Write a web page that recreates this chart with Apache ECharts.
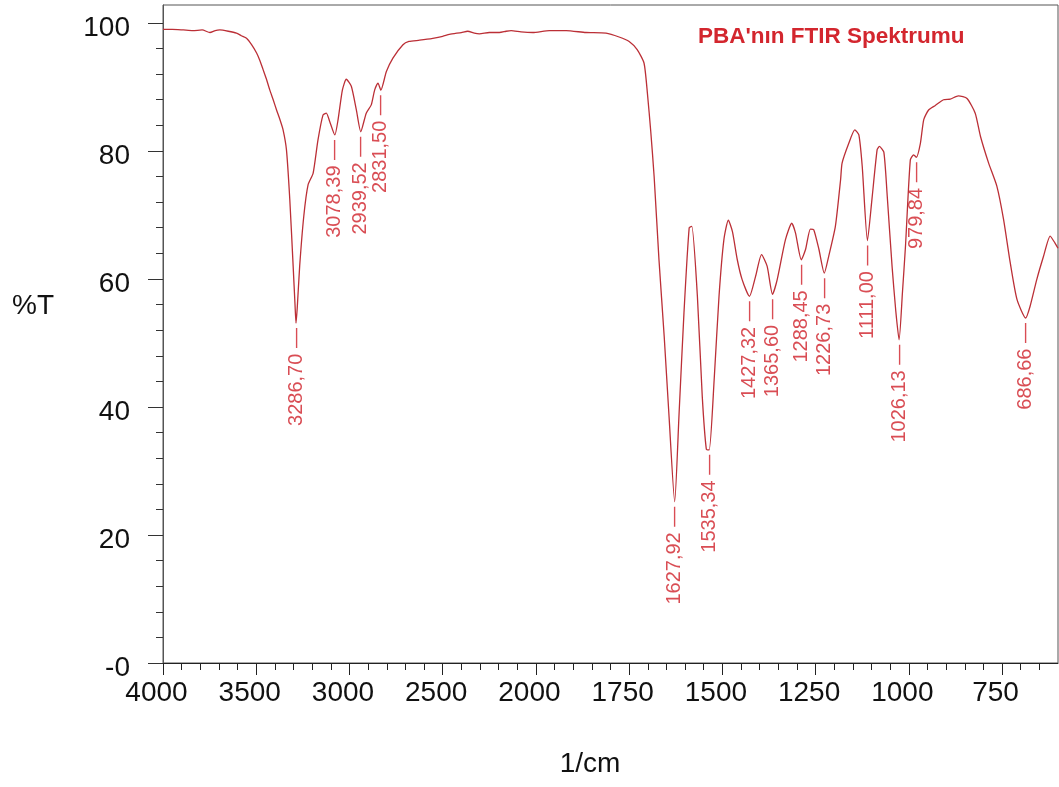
<!DOCTYPE html>
<html>
<head>
<meta charset="utf-8">
<script src="https://cdn.jsdelivr.net/npm/echarts@6/dist/echarts.min.js"></script>
<style>
html,body{margin:0;padding:0;background:#fff;}
#chart{width:1059px;height:787px;}
</style>
</head>
<body>
<div id="chart"></div>
<script>
// ---- data ----
const wavenumbers = [4000,3950,3891,3840,3790,3748,3720,3695,3650,3606,3580,3552,3525,3498,3480,3463,3445,3427,3409,3391,3373,3356,3338,3320,3302,3292,3286.7,3280,3267,3245,3222,3195,3169,3142,3124,3106,3078.39,3061,3038,3017,2990,2963,2939.52,2910,2883,2865,2847,2831.5,2802,2767,2713,2681,2624,2553,2500,2464,2400,2366,2330,2303,2250,2196,2160,2133,2080,2017,1964,1919,1866,1812,1777,1750,1728,1710,1701,1692,1683,1670,1656,1643,1627.92,1616,1603,1589,1582,1567,1554,1543,1535.34,1522,1509,1496,1484,1473,1460,1447,1427.32,1411,1395,1380,1365.6,1353,1331,1314,1304,1288.45,1277,1264,1255,1241,1226.73,1215,1197,1183,1179,1161,1145,1134,1125,1111,1099,1085,1079,1067,1058,1045,1035,1026.13,1017,1009,996,987,979.84,969,960,947,929,907,889,867,844,822,808,786,764,746,728,710,686.66,675,657,639,621,608,600];
const transmittance = [99.0,99.0,98.9,98.8,98.9,98.5,98.8,98.9,98.7,98.4,98.0,97.6,96.6,95.3,94.1,92.7,91.2,89.5,88.0,86.4,84.9,83.3,80.2,72.4,62.0,56.0,53.1,55.5,62.0,69.8,74.7,76.5,81.7,85.6,85.9,84.6,82.5,84.9,89.5,91.2,90.1,86.4,83.0,85.9,87.2,89.5,90.6,89.5,92.4,94.5,96.6,97.1,97.3,97.6,97.9,98.2,98.5,98.7,98.4,98.3,98.5,98.5,98.7,98.8,98.6,98.5,98.8,98.8,98.5,98.4,97.8,97.1,95.8,93.7,89.0,83.0,76.0,63.0,51.0,38.5,25.2,39.1,54.7,68.0,68.2,57.3,41.7,33.4,33.3,44.3,57.3,66.1,69.2,67.4,63.0,59.9,57.3,60.4,63.8,62.0,57.6,59.9,66.1,68.7,67.2,63.0,64.6,67.8,67.7,64.6,60.9,63.5,68.2,75.5,78.1,81.2,83.3,82.5,77.6,66.0,72.4,80.2,80.7,79.8,73.0,62.0,55.0,50.5,58.0,65.1,78.6,79.4,79.0,81.2,84.9,86.4,87.1,88.0,88.1,88.6,88.2,85.9,82.3,78.1,74.5,69.3,62.5,56.8,53.9,55.7,59.9,63.5,66.7,65.6,64.8];

const peakWavenumbers = [3286.70,3078.39,2939.52,2831.50,1627.92,1535.34,1427.32,1365.60,1288.45,1226.73,1111.00,1026.13,979.84,686.66];
const peakTransmittance = [53.1,82.5,83.0,89.5,25.2,33.3,57.3,57.6,63.0,60.9,66.0,50.5,79.0,53.9];
const peakLabels = ['3286,70','3078,39','2939,52','2831,50','1627,92','1535,34','1427,32','1365,60','1288,45','1226,73','1111,00','1026,13','979,84','686,66'];

const xMajorTicks = [4000,3500,3000,2500,2000,1750,1500,1250,1000,750];
const yMajorTicks = [0,20,40,60,80,100];
const titleText = "PBA'nın FTIR Spektrumu";
const xAxisName = '1/cm';
const yAxisName = '%T';

// ---- piecewise wavenumber axis (4000-2000 at half scale, below 2000 at full scale) ----
function toT(w){ return w >= 2000 ? (4000 - w) / 2 : 1000 + (2000 - w); }
function fromT(t){ return t <= 1000 ? 4000 - 2 * t : 2000 - (t - 1000); }
const X_MIN_WN = 4000, X_MAX_WN = 600;

const xMinor = [];
for (let w = 4000; w > 2000; w -= 100) xMinor.push(toT(w));
for (let w = 2000; w >= 650; w -= 50) xMinor.push(toT(w));
const yMinor = [];
for (let v = 0; v <= 100; v += 4) yMinor.push(v);

const lineData = wavenumbers.map((w, i) => [toT(w), transmittance[i]]);
const peakData = peakWavenumbers.map((w, i) => ({ value: [toT(w), peakTransmittance[i]], name: peakLabels[i] }));

const FONT = 'Liberation Sans, Arial, sans-serif';
const gridBox = { left: 163, right: 1, top: 5, bottom: 124 };
const yMax = 102.8;

const chart = echarts.init(document.getElementById('chart'), null, { renderer: 'canvas' });
chart.setOption({
  animation: false,
  backgroundColor: '#ffffff',
  title: [
    {
      text: titleText, left: 698, top: 25, padding: 0,
      textStyle: { color: '#d3262e', fontSize: 22.5, fontWeight: 'bold', fontFamily: FONT }
    },
    {
      text: yAxisName, left: 12, top: 292, padding: 0,
      textStyle: { color: '#111', fontSize: 28, fontWeight: 'normal', fontFamily: FONT }
    }
  ],
  grid: [
    Object.assign({ show: true, borderColor: '#555', borderWidth: 1, backgroundColor: 'transparent' }, gridBox),
    Object.assign({ show: false }, gridBox)
  ],
  xAxis: [
    {
      type: 'value', gridIndex: 0, min: toT(X_MIN_WN), max: toT(X_MAX_WN),
      name: xAxisName, nameLocation: 'middle', nameGap: 87,
      nameTextStyle: { color: '#111', fontSize: 28, fontFamily: FONT, padding: [0, 41, 0, 0] },
      axisLine: { show: true, lineStyle: { color: '#222', width: 1 } },
      axisTick: { show: true, length: 12, customValues: xMajorTicks.map(toT), lineStyle: { color: '#222' } },
      axisLabel: {
        show: true, customValues: xMajorTicks.map(toT), margin: 16,
        color: '#111', fontSize: 28, fontFamily: FONT, padding: [0, 13, 0, 0],
        formatter: v => String(Math.round(fromT(v)))
      },
      splitLine: { show: false }
    },
    {
      type: 'value', gridIndex: 1, min: toT(X_MIN_WN), max: toT(X_MAX_WN),
      axisLine: { show: false },
      axisTick: { show: true, length: 7, customValues: xMinor, lineStyle: { color: '#222' } },
      axisLabel: { show: false },
      splitLine: { show: false }
    }
  ],
  yAxis: [
    {
      type: 'value', gridIndex: 0, min: 0, max: yMax,
      axisLine: { show: true, lineStyle: { color: '#555', width: 1 } },
      axisTick: { show: true, length: 15, customValues: yMajorTicks, lineStyle: { color: '#333' } },
      axisLabel: {
        show: true, customValues: yMajorTicks, margin: 33,
        color: '#111', fontSize: 28, fontFamily: FONT,
        verticalAlign: 'top', lineHeight: 10,
        formatter: v => (v === 0 ? '-0' : String(v))
      },
      splitLine: { show: false }
    },
    {
      type: 'value', gridIndex: 1, min: 0, max: yMax,
      axisLine: { show: false },
      axisTick: { show: true, length: 7, customValues: yMinor, lineStyle: { color: '#333' } },
      axisLabel: { show: false },
      splitLine: { show: false }
    }
  ],
  series: [
    {
      type: 'line', xAxisIndex: 0, yAxisIndex: 0,
      data: lineData, showSymbol: false, smooth: 0.2,
      lineStyle: { color: '#bb2f36', width: 1.3 },
      silent: true
    },
    {
      type: 'scatter', xAxisIndex: 0, yAxisIndex: 0,
      data: peakData, symbolSize: 2,
      itemStyle: { color: 'rgba(0,0,0,0)' },
      label: {
        show: true, position: [1, 6], rotate: 90,
        align: 'right', verticalAlign: 'middle',
        formatter: p => p.name + ' \u2014',
        color: '#cf2029', fontSize: 20, fontFamily: FONT
      },
      silent: true
    }
  ]
});
</script>
</body>
</html>
